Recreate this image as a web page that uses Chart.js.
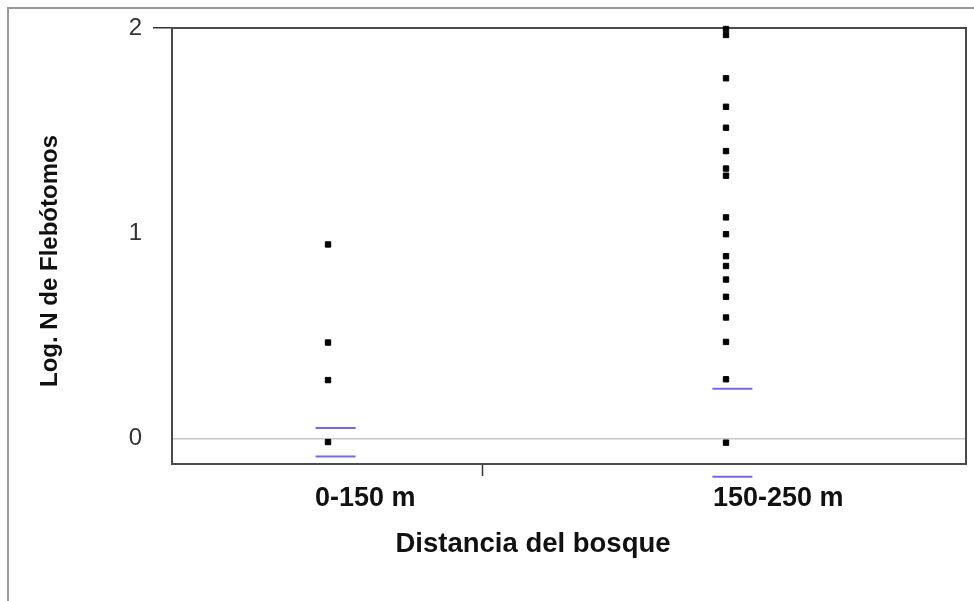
<!DOCTYPE html>
<html>
<head>
<meta charset="utf-8">
<script src="https://cdn.jsdelivr.net/npm/chart.js@4"></script>
<style>
  html, body { margin: 0; padding: 0; background: #fff; overflow: hidden; }
  canvas { display: block; }
</style>
</head>
<body>
<canvas id="chart" width="974" height="601"></canvas>
<script>
// categories and where they sit on the x axis
const categories = ["0-150 m", "150-250 m"];
const catPos = [1, 2];
const midTick = 1.389;

// Log. N de Flebótomos
const near = [0.945, 0.467, 0.284, -0.018];
const far = [1.995, 1.966, 1.755, 1.616, 1.514, 1.4, 1.315, 1.28, 1.077, 0.995, 0.888, 0.84, 0.774, 0.69, 0.589, 0.47, 0.288, -0.021];

// blue interval marks per category
const markPos = [1.019, 2.016];
const upperMark = [0.05, 0.242];
const lowerMark = [-0.089, -0.187];

const yTicks = [0, 1, 2];

const groups = [near, far];
const points = [];
groups.forEach((vals, i) => {
	for (const v of vals) points.push({ x: catPos[i], y: v });
});

const marks = [];
markPos.forEach((x, i) => {
	marks.push({ x: x, y: upperMark[i] });
	marks.push({ x: x, y: lowerMark[i] });
});

const frame = {
	id: "frame",
	beforeDraw(chart) {
		const ctx = chart.ctx;
		ctx.save();
		ctx.strokeStyle = "#9a9a9a";
		ctx.lineWidth = 2;
		ctx.strokeRect(8, 8, 2000, 2000);
		ctx.restore();
	},
	beforeDatasetsDraw(chart) {
		const a = chart.chartArea;
		const ctx = chart.ctx;
		ctx.save();
		ctx.strokeStyle = "#4a4a4a";
		ctx.lineWidth = 2;
		ctx.strokeRect(a.left, a.top, a.right - a.left, a.bottom - a.top);
		ctx.restore();
	},
	afterDraw(chart) {
		const ctx = chart.ctx;
		ctx.save();
		ctx.fillStyle = "#111";
		ctx.textAlign = "center";
		ctx.textBaseline = "middle";
		ctx.font = "bold 27.5px 'Liberation Sans', Arial, sans-serif";
		ctx.fillText("Distancia del bosque", 533, 544);
		ctx.translate(50, 261);
		ctx.rotate(-Math.PI / 2);
		ctx.font = "bold 24px 'Liberation Sans', Arial, sans-serif";
		ctx.fillText("Log. N de Flebótomos", 0, 0);
		ctx.restore();
	},
};

new Chart(document.querySelector("#chart"), {
	type: "scatter",
	data: {
		datasets: [
			{
				data: points,
				pointStyle: "rect",
				pointRadius: 3.8,
				borderWidth: 1,
				backgroundColor: "#000",
				borderColor: "#000",
				clip: false,
			},
			{
				data: marks,
				pointStyle: "line",
				pointRadius: 20,
				borderWidth: 2,
				borderColor: "#7766ee",
				backgroundColor: "#7766ee",
				clip: false,
			},
		],
	},
	options: {
		responsive: false,
		animation: false,
		devicePixelRatio: 1,
		layout: { autoPadding: false, padding: { top: 28, right: 8, left: 0, bottom: 0 } },
		plugins: { legend: { display: false }, tooltip: { enabled: false } },
		scales: {
			x: {
				type: "linear",
				min: 0.608,
				max: 2.603,
				afterBuildTicks: (s) => {
					s.ticks = [catPos[0], midTick, catPos[1]].map((v) => ({ value: v }));
				},
				afterFit: (s) => {
					s.height = 137;
					s.paddingLeft = 0;
					s.paddingRight = 0;
				},
				border: { display: false },
				grid: {
					drawOnChartArea: false,
					tickLength: 12,
					tickWidth: 1.5,
					tickColor: (c) => (c.tick && c.tick.value === midTick ? "#333" : "rgba(0,0,0,0)"),
				},
				ticks: {
					autoSkip: false,
					maxRotation: 0,
					align: "start",
					labelOffset: -13,
					padding: 6,
					color: "#111",
					font: { family: "'Liberation Sans', Arial, sans-serif", size: 27, weight: "bold" },
					callback: (v) => {
						const i = catPos.indexOf(v);
						return i >= 0 ? categories[i] : "";
					},
				},
			},
			y: {
				min: -0.125,
				max: 2,
				afterBuildTicks: (s) => {
					s.ticks = yTicks.map((v) => ({ value: v }));
				},
				afterFit: (s) => {
					s.width = 172;
					s.paddingTop = 0;
					s.paddingBottom = 0;
				},
				border: { display: false },
				grid: {
					color: (c) => (c.tick && c.tick.value === 0 ? "#c8c8c8" : "rgba(0,0,0,0)"),
					lineWidth: 1.5,
					tickLength: 19,
					tickColor: (c) => (c.tick && c.tick.value === 2 ? "#333" : "rgba(0,0,0,0)"),
				},
				ticks: {
					padding: 11,
					color: "#333",
					font: { family: "'Liberation Sans', Arial, sans-serif", size: 24 },
				},
			},
		},
	},
	plugins: [frame],
});
</script>
</body>
</html>
